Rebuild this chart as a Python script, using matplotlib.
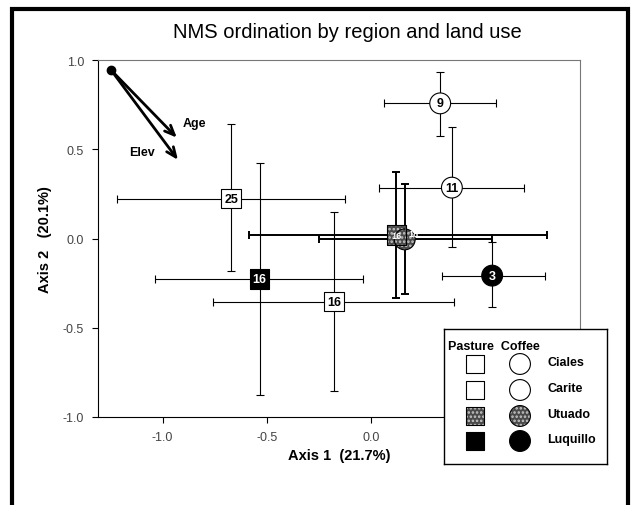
import numpy as np
import matplotlib
matplotlib.use("Agg")
import matplotlib.pyplot as plt
from matplotlib.patches import Rectangle

# region order for both land uses
regions = ["Ciales", "Carite", "Utuado", "Luquillo"]

# pasture sites (squares)
past_x = [-0.672, -0.180, 0.120, -0.535]
past_y = [0.223, -0.353, 0.019, -0.227]
past_xlo = [-1.218, -0.761, -0.585, -1.035]
past_xhi = [-0.127, 0.398, 0.844, -0.039]
past_ylo = [-0.180, -0.856, -0.335, -0.878]
past_yhi = [0.640, 0.149, 0.372, 0.422]
past_n = ["25", "16", "16", "16"]

# coffee sites (circles)
cof_x = [0.330, 0.386, 0.160, 0.579]
cof_y = [0.757, 0.285, -0.005, -0.208]
cof_xlo = [0.062, 0.039, -0.253, 0.340]
cof_xhi = [0.598, 0.734, 0.577, 0.830]
cof_ylo = [0.575, -0.047, -0.313, -0.385]
cof_yhi = [0.930, 0.623, 0.305, -0.022]
cof_n = ["9", "11", "18", "3"]

# environmental vectors
vec_origin = (-1.247, 0.943)
vec_names = ["Age", "Elev"]
vec_end_x = [-0.923, -0.919]
vec_end_y = [0.554, 0.428]
vec_lab_x = [-0.85, -1.10]
vec_lab_y = [0.647, 0.484]

xticks = [-1.0, -0.5, 0.0, 0.5]
yticks = [-1.0, -0.5, 0.0, 0.5, 1.0]

face = {"Ciales": "white", "Carite": "white", "Utuado": "#4a4a4a", "Luquillo": "black"}
txtcol = {"Ciales": "black", "Carite": "black", "Utuado": "white", "Luquillo": "white"}
bar_lw = {"Ciales": 0.8, "Carite": 0.8, "Utuado": 1.4, "Luquillo": 0.8}
hatch = {"Ciales": None, "Carite": None, "Utuado": "....", "Luquillo": None}
lab_fs = {"Ciales": 9, "Carite": 9, "Utuado": 6.5, "Luquillo": 9}
# the two Utuado markers sit on top of each other, nudge the coffee number aside
cof_off = {"Ciales": (0, 0), "Carite": (0, 0), "Utuado": (6, 4), "Luquillo": (0, 0)}

narrow = ["Liberation Sans Narrow", "Liberation Sans", "DejaVu Sans"]

W, H = 635, 506
fig = plt.figure(figsize=(W / 100, H / 100), dpi=100)
fig.patch.set_facecolor("white")
plt.rcParams["hatch.linewidth"] = 1.2


def marker(axis, x, y, shape, size, r, z=4):
    # filled marker, speckle hatch for Utuado, black outline on top
    axis.scatter([x], [y], marker=shape, s=size ** 2, facecolor=face[r],
                 edgecolor="#c8c8c8" if hatch[r] else "none", hatch=hatch[r], lw=0, zorder=z)
    axis.scatter([x], [y], marker=shape, s=size ** 2, facecolor="none",
                 edgecolor="black", lw=0.8, zorder=z + 0.1)


ax = fig.add_axes([98 / W, 1 - 418 / H, (580 - 98) / W, (418 - 61) / H])
ax.set_xlim(-1.31, 1.0)
ax.set_ylim(-1.0, 1.0)

for i, r in enumerate(regions):
    x, y = past_x[i], past_y[i]
    ax.errorbar(x, y, xerr=[[x - past_xlo[i]], [past_xhi[i] - x]],
                yerr=[[y - past_ylo[i]], [past_yhi[i] - y]],
                fmt="none", ecolor="black", elinewidth=bar_lw[r], capsize=3, capthick=bar_lw[r], zorder=2)
    x, y = cof_x[i], cof_y[i]
    ax.errorbar(x, y, xerr=[[x - cof_xlo[i]], [cof_xhi[i] - x]],
                yerr=[[y - cof_ylo[i]], [cof_yhi[i] - y]],
                fmt="none", ecolor="black", elinewidth=bar_lw[r], capsize=3, capthick=bar_lw[r], zorder=2)

for i, r in enumerate(regions):
    marker(ax, past_x[i], past_y[i], "s", 14, r)
    ax.text(past_x[i], past_y[i], past_n[i], ha="center", va="center", fontsize=lab_fs[r],
            fontweight="bold", color=txtcol[r], family=narrow, zorder=5)
    marker(ax, cof_x[i], cof_y[i], "o", 15, r)
    ax.annotate(cof_n[i], (cof_x[i], cof_y[i]), xytext=cof_off[r], textcoords="offset points",
                ha="center", va="center", fontsize=lab_fs[r],
                fontweight="bold", color=txtcol[r], family=narrow, zorder=5)

# vectors
ax.plot(*vec_origin, marker="o", ms=6, color="black", zorder=6)
for i, nm in enumerate(vec_names):
    ax.annotate("", xy=(vec_end_x[i], vec_end_y[i]), xytext=vec_origin,
                arrowprops=dict(arrowstyle="->,head_length=0.7,head_width=0.3", lw=2, color="black"),
                zorder=6)
    ax.text(vec_lab_x[i], vec_lab_y[i], nm, fontsize=9, fontweight="bold", family=narrow,
            ha="center", va="center")

ax.set_xticks(xticks)
ax.set_yticks(yticks)
ax.set_xticklabels(["%.1f" % v for v in xticks])
ax.set_yticklabels(["%.1f" % v for v in yticks])
ax.tick_params(direction="out", length=4, width=0.8, labelsize=9, labelcolor="#444444", pad=6)
for lab in ax.get_xticklabels() + ax.get_yticklabels():
    lab.set_family(narrow)

ax.spines["top"].set_color("#777777")
ax.spines["top"].set_linewidth(0.8)
ax.spines["right"].set_color("#777777")
ax.spines["right"].set_linestyle((0, (3, 1)))
ax.spines["right"].set_linewidth(0.8)

ax.set_xlabel("Axis 1  (21.7%)", fontsize=10.5, fontweight="bold", family=narrow, labelpad=4)
ax.set_ylabel("Axis 2   (20.1%)", fontsize=10.5, fontweight="bold", family=narrow, labelpad=8)

fig.text(347 / W, 1 - 33 / H, "NMS ordination by region and land use", ha="center", va="center",
         fontsize=14.5, family=["Liberation Sans", "DejaVu Sans"])

# legend box
lg = fig.add_axes([444 / W, 1 - 465 / H, (607 - 444) / W, (465 - 330) / H])
lg.set_xlim(0, 163)
lg.set_ylim(135, 0)
lg.set_xticks([])
lg.set_yticks([])
for s in lg.spines.values():
    s.set_linewidth(1.0)
lg.text(4, 17, "Pasture  Coffee", fontsize=9, fontweight="bold", family=narrow, va="center")
row_y = [35, 61, 87, 112]
for i, r in enumerate(regions):
    marker(lg, 31, row_y[i], "s", 13, r)
    marker(lg, 76, row_y[i], "o", 15, r)
    lg.text(103, row_y[i] - 2, r, fontsize=9, fontweight="bold", family=narrow, va="center")

# outer frame
fig.patches.append(Rectangle((12 / W, -0.05), (628 - 12) / W, 1.05 - 10 / H,
                             transform=fig.transFigure, fill=False, lw=3, ec="black"))

fig.savefig("out.png", dpi=100)
